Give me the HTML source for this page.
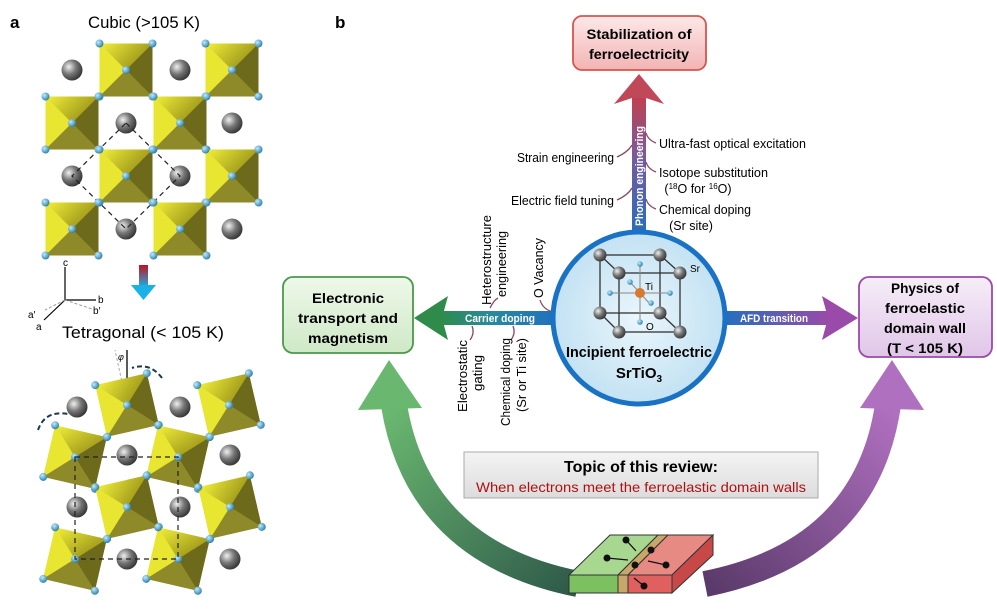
<!DOCTYPE html>
<html><head><meta charset="utf-8"><style>
html,body{margin:0;padding:0;background:#fff}
svg{display:block}
text{font-family:"Liberation Sans",sans-serif}
</style></head><body>
<svg width="997" height="612" viewBox="0 0 997 612" xmlns="http://www.w3.org/2000/svg">
<defs>
<linearGradient id="oct" x1="0" y1="0" x2="1" y2="1"><stop offset="0" stop-color="#f2f03a"/><stop offset=".5" stop-color="#a8a21e"/><stop offset="1" stop-color="#6b661a"/></linearGradient>
<radialGradient id="sph" cx=".35" cy=".35" r=".7"><stop offset="0" stop-color="#f0f0f0"/><stop offset=".5" stop-color="#777"/><stop offset="1" stop-color="#333"/></radialGradient>
<radialGradient id="bl" cx=".35" cy=".35" r=".7"><stop offset="0" stop-color="#bfeaff"/><stop offset="1" stop-color="#2a7ea8"/></radialGradient>
<radialGradient id="circ" cx=".5" cy=".5" r=".5"><stop offset="0" stop-color="#eaf6fc"/><stop offset="1" stop-color="#c3e2f3"/></radialGradient>
<linearGradient id="vArr" x1="0" y1="1" x2="0" y2="0"><stop offset="0" stop-color="#1f6fc0"/><stop offset=".6" stop-color="#7a5a9a"/><stop offset="1" stop-color="#c04050"/></linearGradient>
<linearGradient id="lArr" x1="1" y1="0" x2="0" y2="0"><stop offset="0" stop-color="#1f6fc0"/><stop offset=".6" stop-color="#2a8a9a"/><stop offset="1" stop-color="#2e8b4a"/></linearGradient>
<linearGradient id="rArr" x1="0" y1="0" x2="1" y2="0"><stop offset="0" stop-color="#1f6fc0"/><stop offset=".6" stop-color="#6a5ab0"/><stop offset="1" stop-color="#9a4aa8"/></linearGradient>
<linearGradient id="gArc" x1="1" y1="1" x2="0" y2="0"><stop offset="0" stop-color="#2f5a4a"/><stop offset="1" stop-color="#6ab870"/></linearGradient>
<linearGradient id="pArc" x1="0" y1="1" x2="1" y2="0"><stop offset="0" stop-color="#5a3a6a"/><stop offset="1" stop-color="#b070c0"/></linearGradient>
<linearGradient id="dArr" x1="0" y1="0" x2="0" y2="1"><stop offset="0" stop-color="#c01020"/><stop offset="1" stop-color="#1ab0e8"/></linearGradient>
<linearGradient id="topic" x1="0" y1="0" x2="0" y2="1"><stop offset="0" stop-color="#f4f4f4"/><stop offset="1" stop-color="#dcdcdc"/></linearGradient>
<linearGradient id="redbox" x1="0" y1="0" x2="0" y2="1"><stop offset="0" stop-color="#fde8e8"/><stop offset="1" stop-color="#f2b4b4"/></linearGradient>
<linearGradient id="grbox" x1="0" y1="0" x2="0" y2="1"><stop offset="0" stop-color="#eef8ea"/><stop offset="1" stop-color="#cfe9c6"/></linearGradient>
<linearGradient id="pubox" x1="0" y1="0" x2="0" y2="1"><stop offset="0" stop-color="#f6eef8"/><stop offset="1" stop-color="#e0c6e8"/></linearGradient>
<g id="oc">
<rect x="-26.5" y="-26.5" width="53" height="53" fill="url(#oct)"/>
<path d="M-26.5 -26.5 L0 0 L-26.5 26.5 Z" fill="#e8e630"/>
<path d="M26.5 -26.5 L0 0 L26.5 26.5 Z" fill="#6e6a1c"/>
<path d="M-26.5 26.5 L0 0 L26.5 26.5 Z" fill="#8e8a2a"/>
<circle cx="-26.5" cy="-26.5" r="4" fill="url(#bl)"/><circle cx="26.5" cy="-26.5" r="4" fill="url(#bl)"/>
<circle cx="-26.5" cy="26.5" r="4" fill="url(#bl)"/><circle cx="26.5" cy="26.5" r="4" fill="url(#bl)"/>
<circle cx="0" cy="0" r="4" fill="url(#bl)"/>
</g>
<circle id="gs" r="10.5" fill="url(#sph)"/>
</defs>

<!-- Panel a -->
<text x="10" y="28" font-size="17" font-weight="bold">a</text>
<text x="88" y="28" font-size="17" textLength="112" lengthAdjust="spacingAndGlyphs">Cubic (&gt;105 K)</text>
<g>
<use href="#gs" x="72" y="70"/><use href="#gs" x="180" y="70"/>
<use href="#gs" x="126" y="123"/><use href="#gs" x="232" y="123"/>
<use href="#gs" x="72" y="176"/><use href="#gs" x="180" y="176"/>
<use href="#gs" x="126" y="229"/><use href="#gs" x="232" y="229"/>
<path d="M126 123 L180 176 L126 229 L72 176 Z" fill="none" stroke="#222" stroke-width="1.2" stroke-dasharray="5 4"/>
<use href="#oc" x="126" y="70"/><use href="#oc" x="232" y="70"/>
<use href="#oc" x="72" y="123"/><use href="#oc" x="180" y="123"/>
<use href="#oc" x="126" y="176"/><use href="#oc" x="232" y="176"/>
<use href="#oc" x="72" y="229"/><use href="#oc" x="180" y="229"/>
</g>
<rect x="139" y="265" width="9" height="22" fill="url(#dArr)"/>
<path d="M131 285 L156 285 L143.5 300 Z" fill="#1ab0e8"/>
<g stroke="#000" stroke-width="1.2" fill="none">
<path d="M65 300 L65 267"/><path d="M65 300 L96 300"/><path d="M65 300 L44 320"/>
</g>
<g stroke="#999" stroke-width="1" fill="none" stroke-dasharray="3 2"><path d="M65 300 L45 310"/><path d="M65 300 L92 309"/></g>
<text x="63" y="266" font-size="10">c</text><text x="98" y="303" font-size="10">b</text>
<text x="93" y="314" font-size="10">b′</text><text x="28" y="318" font-size="10">a′</text><text x="36" y="330" font-size="10">a</text>
<text x="62" y="338" font-size="17" textLength="162" lengthAdjust="spacingAndGlyphs">Tetragonal (&lt; 105 K)</text>
<g>
<path d="M127 405 L127 350" stroke="#000" stroke-width="1.3"/>
<path d="M127 405 L115 350" stroke="#aaa" stroke-width="1" stroke-dasharray="3 2"/>
<text x="118" y="360" font-size="9" font-style="italic">φ</text>
<path d="M162 378 Q150 362 132 368" fill="none" stroke="#1c3a4a" stroke-width="2" stroke-dasharray="5 3"/>
<path d="M38 430 Q45 410 68 414" fill="none" stroke="#1c3a4a" stroke-width="2" stroke-dasharray="5 3"/>
<use href="#gs" x="77" y="407"/><use href="#gs" x="180" y="407"/>
<use href="#gs" x="127" y="455"/><use href="#gs" x="230" y="455"/>
<use href="#gs" x="77" y="507"/><use href="#gs" x="180" y="507"/>
<use href="#gs" x="127" y="559"/><use href="#gs" x="230" y="559"/>
<g transform="translate(127 405) rotate(-13)"><use href="#oc"/></g>
<g transform="translate(229 405) rotate(-13)"><use href="#oc"/></g>
<g transform="translate(75 457) rotate(13)"><use href="#oc"/></g>
<g transform="translate(178 457) rotate(13)"><use href="#oc"/></g>
<g transform="translate(127 507) rotate(-13)"><use href="#oc"/></g>
<g transform="translate(230 507) rotate(-13)"><use href="#oc"/></g>
<g transform="translate(75 559) rotate(13)"><use href="#oc"/></g>
<g transform="translate(178 559) rotate(13)"><use href="#oc"/></g>
<rect x="75" y="457" width="103" height="102" fill="none" stroke="#222" stroke-width="1.2" stroke-dasharray="5 4"/>
</g>

<!-- Panel b -->
<text x="335" y="28" font-size="17" font-weight="bold">b</text>

<path d="M578 584 Q418 552 394 405" fill="none" stroke="url(#gArc)" stroke-width="26"/>
<path d="M389 360 L358 410 L422 408 Z" fill="#6ab870"/>
<path d="M705 584 Q866 552 888 405" fill="none" stroke="url(#pArc)" stroke-width="26"/>
<path d="M892 360 L860 408 L924 410 Z" fill="#b070c0"/>

<rect x="632" y="98" width="14" height="142" fill="url(#vArr)"/>
<path d="M614 104 L639 74 L664 104 L646 98 L632 98 Z" fill="#c04858"/>
<rect x="440" y="311" width="120" height="14" fill="url(#lArr)"/>
<path d="M448 296 L414 318 L448 340 L442 318 Z" fill="#2e8b4a"/>
<rect x="720" y="311" width="110" height="14" fill="url(#rArr)"/>
<path d="M822 296 L858 318 L822 340 L828 318 Z" fill="#9a4aa8"/>
<text x="465" y="322" font-size="11" font-weight="bold" fill="#fff" textLength="70" lengthAdjust="spacingAndGlyphs">Carrier doping</text>
<text x="740" y="322" font-size="11" font-weight="bold" fill="#fff" textLength="68" lengthAdjust="spacingAndGlyphs">AFD transition</text>
<text transform="translate(643 226) rotate(-90)" font-size="11" font-weight="bold" fill="#fff" textLength="100" lengthAdjust="spacingAndGlyphs">Phonon engineering</text>

<rect x="573" y="16" width="133" height="54" rx="9" fill="url(#redbox)" stroke="#d9534f" stroke-width="1.8"/>
<text x="639" y="39" font-size="14" font-weight="bold" text-anchor="middle" textLength="105" lengthAdjust="spacingAndGlyphs">Stabilization of</text>
<text x="639" y="59" font-size="14" font-weight="bold" text-anchor="middle" textLength="100" lengthAdjust="spacingAndGlyphs">ferroelectricity</text>
<rect x="283" y="277" width="130" height="76" rx="10" fill="url(#grbox)" stroke="#4a9a4a" stroke-width="1.8"/>
<text x="348" y="303" font-size="14" font-weight="bold" text-anchor="middle" textLength="72" lengthAdjust="spacingAndGlyphs">Electronic</text>
<text x="348" y="323" font-size="14" font-weight="bold" text-anchor="middle" textLength="100" lengthAdjust="spacingAndGlyphs">transport and</text>
<text x="348" y="343" font-size="14" font-weight="bold" text-anchor="middle" textLength="80" lengthAdjust="spacingAndGlyphs">magnetism</text>
<rect x="859" y="277" width="133" height="80" rx="10" fill="url(#pubox)" stroke="#9a4aa8" stroke-width="1.8"/>
<text x="925" y="293" font-size="14" font-weight="bold" text-anchor="middle" textLength="68" lengthAdjust="spacingAndGlyphs">Physics of</text>
<text x="925" y="313" font-size="14" font-weight="bold" text-anchor="middle" textLength="80" lengthAdjust="spacingAndGlyphs">ferroelastic</text>
<text x="925" y="333" font-size="14" font-weight="bold" text-anchor="middle" textLength="82" lengthAdjust="spacingAndGlyphs">domain wall</text>
<text x="925" y="353" font-size="14" font-weight="bold" text-anchor="middle" textLength="76" lengthAdjust="spacingAndGlyphs">(T &lt; 105 K)</text>

<g fill="none" stroke="#8a4a6a" stroke-width="1.3">
<path d="M617 157 Q628 152 632 145"/><path d="M617 200 Q628 195 632 188"/>
<path d="M656 143 Q648 140 646 133"/><path d="M656 172 Q648 169 646 162"/><path d="M656 209 Q648 206 646 199"/>
<path d="M540 300 Q543 310 554 312"/><path d="M490 308 Q494 300 498 298"/>
<path d="M472 326 Q475 333 470 340"/><path d="M513 326 Q516 333 511 340"/>
</g>
<g font-size="12.5">
<text x="614" y="162" text-anchor="end" textLength="97" lengthAdjust="spacingAndGlyphs">Strain engineering</text>
<text x="614" y="205" text-anchor="end" textLength="103" lengthAdjust="spacingAndGlyphs">Electric field tuning</text>
<text x="659" y="148" textLength="147" lengthAdjust="spacingAndGlyphs">Ultra-fast optical excitation</text>
<text x="659" y="177" textLength="109" lengthAdjust="spacingAndGlyphs">Isotope substitution</text>
<text x="698" y="193" text-anchor="middle">(<tspan font-size="8" dy="-4">18</tspan><tspan dy="4">O for </tspan><tspan font-size="8" dy="-4">16</tspan><tspan dy="4">O)</tspan></text>
<text x="659" y="214" textLength="92" lengthAdjust="spacingAndGlyphs">Chemical doping</text>
<text x="691" y="230" text-anchor="middle">(Sr site)</text>
<text transform="translate(491 305) rotate(-90)" textLength="90" lengthAdjust="spacingAndGlyphs">Heterostructure</text>
<text transform="translate(506 297) rotate(-90)" textLength="66" lengthAdjust="spacingAndGlyphs">engineering</text>
<text transform="translate(543 298) rotate(-90)" textLength="60" lengthAdjust="spacingAndGlyphs">O Vacancy</text>
<text transform="translate(467 340) rotate(-90)" text-anchor="end" textLength="72" lengthAdjust="spacingAndGlyphs">Electrostatic</text>
<text transform="translate(482 355) rotate(-90)" text-anchor="end" textLength="36" lengthAdjust="spacingAndGlyphs">gating</text>
<text transform="translate(510 338) rotate(-90)" text-anchor="end" textLength="88" lengthAdjust="spacingAndGlyphs">Chemical doping</text>
<text transform="translate(526 338) rotate(-90)" text-anchor="end" textLength="74" lengthAdjust="spacingAndGlyphs">(Sr or Ti site)</text>
</g>

<circle cx="639" cy="318" r="86" fill="url(#circ)" stroke="#1a72c4" stroke-width="5"/>
<g stroke="#333" stroke-width="1.3" fill="none">
<rect x="600" y="255" width="60" height="58"/><rect x="619" y="273" width="61" height="59"/>
<path d="M600 255 L619 273 M660 255 L680 273 M600 313 L619 332 M660 313 L680 332"/>
</g>
<g stroke="#888" stroke-width="1"><path d="M610 293 L670 293 M640 262 L640 324 M630 282 L650 304"/></g>
<g fill="url(#bl)"><circle cx="610" cy="293" r="2.8"/><circle cx="670" cy="293" r="2.8"/><circle cx="640" cy="264" r="2.8"/><circle cx="640" cy="322" r="2.8"/><circle cx="630" cy="282" r="2.8"/><circle cx="651" cy="303" r="2.8"/></g>
<circle cx="640" cy="293" r="5" fill="#d9782f"/>
<circle cx="600" cy="255" r="6.5" fill="url(#sph)"/><circle cx="660" cy="255" r="6.5" fill="url(#sph)"/>
<circle cx="600" cy="313" r="6.5" fill="url(#sph)"/><circle cx="660" cy="313" r="6.5" fill="url(#sph)"/>
<circle cx="619" cy="273" r="6.5" fill="url(#sph)"/><circle cx="680" cy="273" r="6.5" fill="url(#sph)"/>
<circle cx="619" cy="332" r="6.5" fill="url(#sph)"/><circle cx="680" cy="332" r="6.5" fill="url(#sph)"/>
<text x="690" y="272" font-size="10">Sr</text><text x="645" y="290" font-size="10">Ti</text><text x="646" y="330" font-size="10">O</text>
<text x="639" y="357" font-size="15" font-weight="bold" text-anchor="middle" textLength="146" lengthAdjust="spacingAndGlyphs">Incipient ferroelectric</text>
<text x="639" y="378" font-size="15" font-weight="bold" text-anchor="middle">SrTiO<tspan font-size="10" dy="4">3</tspan></text>

<rect x="464" y="452" width="354" height="46" fill="url(#topic)" stroke="#aaa" stroke-width="1"/>
<text x="641" y="472" font-size="16" font-weight="bold" text-anchor="middle" textLength="154" lengthAdjust="spacingAndGlyphs">Topic of this review:</text>
<text x="641" y="492" font-size="14" fill="#b01010" text-anchor="middle" textLength="330" lengthAdjust="spacingAndGlyphs">When electrons meet the ferroelastic domain walls</text>

<g stroke="#333" stroke-width="1">
<path d="M610 535 L658 535 L618 575 L569 575 Z" fill="#a8d890"/>
<path d="M658 535 L668 535 L628 575 L618 575 Z" fill="#c8a86a"/>
<path d="M668 535 L713 535 L672 575 L628 575 Z" fill="#e88a84"/>
<path d="M569 575 L618 575 L618 593 L569 593 Z" fill="#7cc060"/>
<path d="M618 575 L628 575 L628 593 L618 593 Z" fill="#c8a86a"/>
<path d="M628 575 L672 575 L672 593 L628 593 Z" fill="#e06060"/>
<path d="M713 535 L713 555 L672 593 L672 575 Z" fill="#c84848"/>
</g>
<g fill="#111"><circle cx="626" cy="540" r="3.5"/><circle cx="607" cy="558" r="3.5"/><circle cx="651" cy="550" r="3.5"/><circle cx="635" cy="565" r="3.5"/><circle cx="666" cy="565" r="3.5"/><circle cx="644" cy="586" r="3.5"/></g>
<g stroke="#111" stroke-width="1.3"><path d="M626 540 L636 551 M607 558 L628 560 M666 565 L648 561 M644 586 L634 578"/></g>
</svg>
</body></html>
